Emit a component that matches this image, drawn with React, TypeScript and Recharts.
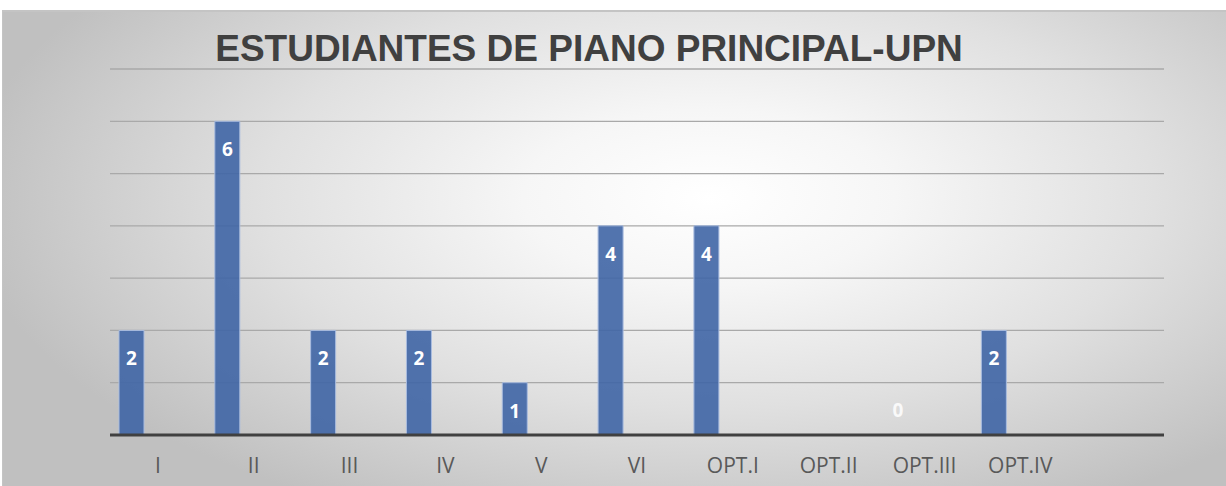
import React from "react";
import { BarChart, Bar, XAxis, YAxis, CartesianGrid, LabelList } from "recharts";

const categories = ["I", "II", "III", "IV", "V", "VI", "OPT.I", "OPT.II", "OPT.III", "OPT.IV", ""];
const students: (number | null)[] = [2, 6, 2, 2, 1, 4, 4, null, 0, 2, null];
const seriesB: (number | null)[] = [null, null, null, null, null, null, null, null, null, null, null];
const seriesC: (number | null)[] = [null, null, null, null, null, null, null, null, null, null, null];
const yTicks = [0, 1, 2, 3, 4, 5, 6, 7];
const title = "ESTUDIANTES DE PIANO PRINCIPAL-UPN";

const data = categories.map((c, i) => ({ name: c, a: students[i], b: seriesB[i], c: seriesC[i] }));

const BarLabel = (props: any) => {
  const { x, y, width, height, value } = props;
  if (value === null || value === undefined) return null;
  const cx = Number(x) + Number(width) / 2;
  if (Number(value) === 0) {
    return (
      <text x={cx} y={Number(y) + Number(height || 0) - 25} textAnchor="middle" dominantBaseline="central" fill="#ffffff" fillOpacity={0.85}
        style={{ fontFamily: "'Open Sans', sans-serif", fontWeight: 700, fontSize: 19 }}>
        {value}
      </text>
    );
  }
  return (
    <text x={cx} y={Number(y) + 28} textAnchor="middle" dominantBaseline="central" fill="#ffffff"
      style={{ fontFamily: "'Open Sans', sans-serif", fontWeight: 700, fontSize: 19 }}>
      {value}
    </text>
  );
};

const Tick = (props: any) => {
  const { x, y, payload } = props;
  return (
    <text x={x} y={y} dy={22} textAnchor="middle" dominantBaseline="central" fill="#595959"
      style={{ fontFamily: "'Open Sans', sans-serif", fontSize: 21 }}>
      {payload.value}
    </text>
  );
};

export default function App() {
  return (
    <div style={{ position: "fixed", left: 0, top: 0, width: 1226, height: 486, overflow: "hidden", background: "#ffffff" }}>
      <div
        style={{
          position: "absolute",
          left: 2,
          top: 10,
          width: 1240,
          height: 490,
          borderTop: "2px solid #c4c4c4",
          borderLeft: "1px solid #c4c4c4",
          boxSizing: "border-box",
          background: "radial-gradient(ellipse 60% 72% at 57% 38%, #ffffff 0%, #f6f6f6 25%, #e0e0e0 60%, #c0c0c0 100%)",
        }}
      />
      <div
        style={{
          position: "absolute",
          left: 0,
          top: 30,
          width: 1178,
          textAlign: "center",
          fontFamily: "'Liberation Sans', Arial, sans-serif",
          fontWeight: 700,
          fontSize: 37,
          lineHeight: "37px",
          color: "#404040",
          whiteSpace: "nowrap",
        }}
      >
        {title}
      </div>
      <div style={{ position: "absolute", left: 0, top: 0 }}>
        <BarChart
          width={1226}
          height={486}
          data={data}
          margin={{ top: 69, right: 62, bottom: 0, left: 110 }}
          barCategoryGap={9}
          barGap={2}
        >
          <CartesianGrid vertical={false} stroke="#a9a9a9" strokeWidth={1.3} />
          <YAxis hide domain={[0, 7]} ticks={yTicks} width={0} />
          <XAxis
            dataKey="name"
            axisLine={{ stroke: "#404040", strokeWidth: 3 }}
            tickLine={false}
            tick={<Tick />}
            interval={0}
            height={51}
          />
          <Bar dataKey="a" fill="#3f65a5" fillOpacity={0.9} stroke="#a9bcdf" strokeWidth={1} minPointSize={0.5} isAnimationActive={false}>
            <LabelList dataKey="a" content={<BarLabel />} />
          </Bar>
          <Bar dataKey="b" fill="#c0504d" isAnimationActive={false} />
          <Bar dataKey="c" fill="#9bbb59" isAnimationActive={false} />
        </BarChart>
      </div>
    </div>
  );
}
